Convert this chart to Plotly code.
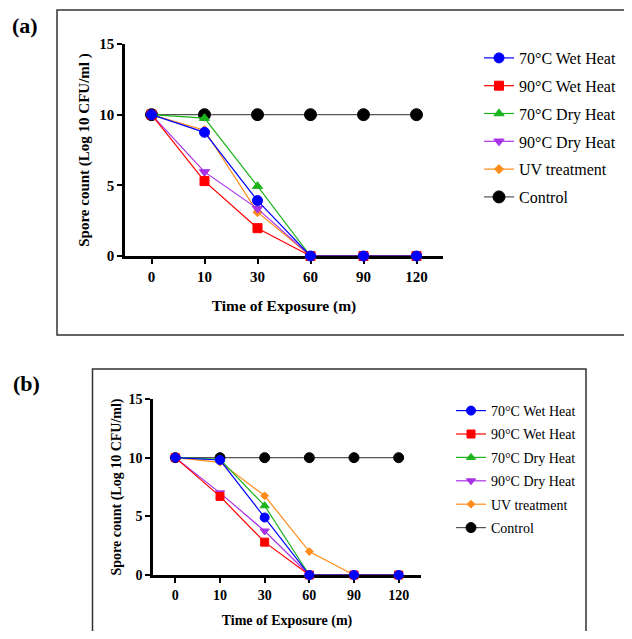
import plotly.graph_objects as go

# the page body keeps its default 8px margin, so the figure is sized to fit the 632x639 window
OFF = 8
W, H = 632 - 2 * OFF, 639 - 2 * OFF

times = ["0", "10", "30", "60", "90", "120"]
series_names = ["70°C Wet Heat", "90°C Wet Heat", "70°C Dry Heat", "90°C Dry Heat", "UV treatment", "Control"]

# Panel (a)
a_wet70 = [10, 8.75, 3.92, 0, 0, 0]
a_wet90 = [10, 5.3, 1.97, 0, 0, 0]
a_dry70 = [10, 9.75, 4.94, 0, 0, 0]
a_dry90 = [10, 5.95, 3.35, 0, 0, 0]
a_uv = [10, 8.9, 3.1, 0, 0, 0]
a_control = [10, 10, 10, 10, 10, 10]

# Panel (b)
b_wet70 = [10, 9.8, 4.9, 0, 0, 0]
b_wet90 = [10, 6.7, 2.8, 0, 0, 0]
b_dry70 = [10, 9.85, 5.9, 0, 0, 0]
b_dry90 = [10, 7.0, 3.75, 0, 0, 0]
b_uv = [10, 9.6, 6.75, 2.0, 0, 0]
b_control = [10, 10, 10, 10, 10, 10]

y_ticks = [0, 5, 10, 15]

colors = ["#0000FF", "#FF0000", "#1DB31D", "#A832E6", "#FF8C1A", "#000000"]
line_colors = ["#0000FF", "#FF0000", "#1DB31D", "#A832E6", "#FF8C1A", "#555555"]
symbols = ["circle", "square", "triangle-up", "triangle-down", "diamond", "circle"]
sizes_a = [10, 9, 9, 9, 7, 12]
sizes_b = [9, 8, 8, 8, 6, 10]

def px(x):
    return (x - OFF) / W

def py(y):
    return 1 - (y - OFF) / H

SERIF = "Liberation Serif, Times New Roman, serif"

fig = go.Figure()

panels = [
    ([a_wet70, a_wet90, a_dry70, a_dry90, a_uv, a_control], "x", "y", "legend", sizes_a),
    ([b_wet70, b_wet90, b_dry70, b_dry90, b_uv, b_control], "x2", "y2", "legend2", sizes_b),
]

for data, xa, ya, lg, sizes in panels:
    # draw control first so treatments are on top; legend ordered by legendrank
    for i in reversed(range(6)):
        fig.add_trace(go.Scatter(
            x=times, y=data[i], name=series_names[i], mode="lines+markers",
            xaxis=xa, yaxis=ya, legend=lg, legendgroup=lg + str(i),
            legendrank=i + 1,
            cliponaxis=False,
            line=dict(color=line_colors[i], width=1.2),
            marker=dict(symbol=symbols[i], size=sizes[i], color=colors[i],
                        line=dict(color=colors[i], width=1)),
        ))

def xaxis_cfg(dom, anchor, fs_tick, fs_title, standoff):
    return dict(
        domain=dom, anchor=anchor, type="category", range=[-0.5, 5.5],
        automargin=False,
        showline=True, linecolor="black", linewidth=2.5,
        ticks="outside", ticklen=5, tickwidth=2, tickcolor="black",
        showgrid=False, zeroline=False, layer="below traces",
        tickfont=dict(family=SERIF, size=fs_tick, color="black", weight="bold"),
        title=dict(text="Time of Exposure (m)", standoff=standoff,
                   font=dict(family=SERIF, size=fs_title, color="black", weight="bold")),
    )

def yaxis_cfg(dom, anchor, fs_tick, fs_title, text, standoff):
    return dict(
        domain=dom, anchor=anchor, range=[0, 15], tickvals=y_ticks,
        automargin=False,
        showline=True, linecolor="black", linewidth=2.5,
        ticks="outside", ticklen=5, tickwidth=2, tickcolor="black",
        showgrid=False, zeroline=False, layer="below traces",
        tickfont=dict(family=SERIF, size=fs_tick, color="black", weight="bold"),
        title=dict(text=text, standoff=standoff,
                   font=dict(family=SERIF, size=fs_title, color="black", weight="bold")),
    )

def open_box(points):
    return "M " + " L ".join(f"{px(x):.5f},{py(y):.5f}" for x, y in points)

fig.update_layout(
    width=W, height=H,
    margin=dict(l=0, r=0, t=0, b=0, autoexpand=False),
    paper_bgcolor="white", plot_bgcolor="white",
    showlegend=True,
    xaxis=xaxis_cfg([px(125), px(443)], "y", 15, 15.5, 17),
    yaxis=yaxis_cfg([py(256), py(44)], "x", 15, 15, "Spore count (Log 10 CFU/ml )", 7),
    xaxis2=xaxis_cfg([px(153), px(421)], "y2", 14, 14, 14),
    yaxis2=yaxis_cfg([py(575), py(399)], "x2", 14, 14, "Spore count (Log 10 CFU/ml)", 4),
    legend=dict(x=px(479), y=py(41), xanchor="left", yanchor="top",
                traceorder="grouped", tracegroupgap=4,
                bgcolor="rgba(0,0,0,0)",
                font=dict(family=SERIF, size=16, color="black")),
    legend2=dict(x=px(451), y=py(395), xanchor="left", yanchor="top",
                 traceorder="grouped", tracegroupgap=2.2,
                 bgcolor="rgba(0,0,0,0)",
                 font=dict(family=SERIF, size=14, color="black")),
    shapes=[
        dict(type="path", xref="paper", yref="paper",
             path=open_box([(640, 10), (57, 10), (57, 335), (640, 335)]),
             line=dict(color="#333333", width=1.5)),
        dict(type="path", xref="paper", yref="paper",
             path=open_box([(92.5, 660), (92.5, 369), (586, 369), (586, 660)]),
             line=dict(color="#333333", width=1.5)),
    ],
    annotations=[
        dict(text="(a)", xref="paper", yref="paper", x=px(25), y=py(25),
             showarrow=False, xanchor="center", yanchor="middle",
             font=dict(family=SERIF, size=22, color="black", weight="bold")),
        dict(text="(b)", xref="paper", yref="paper", x=px(26), y=py(383),
             showarrow=False, xanchor="center", yanchor="middle",
             font=dict(family=SERIF, size=22, color="black", weight="bold")),
    ],
)

fig.write_html("out.html")
